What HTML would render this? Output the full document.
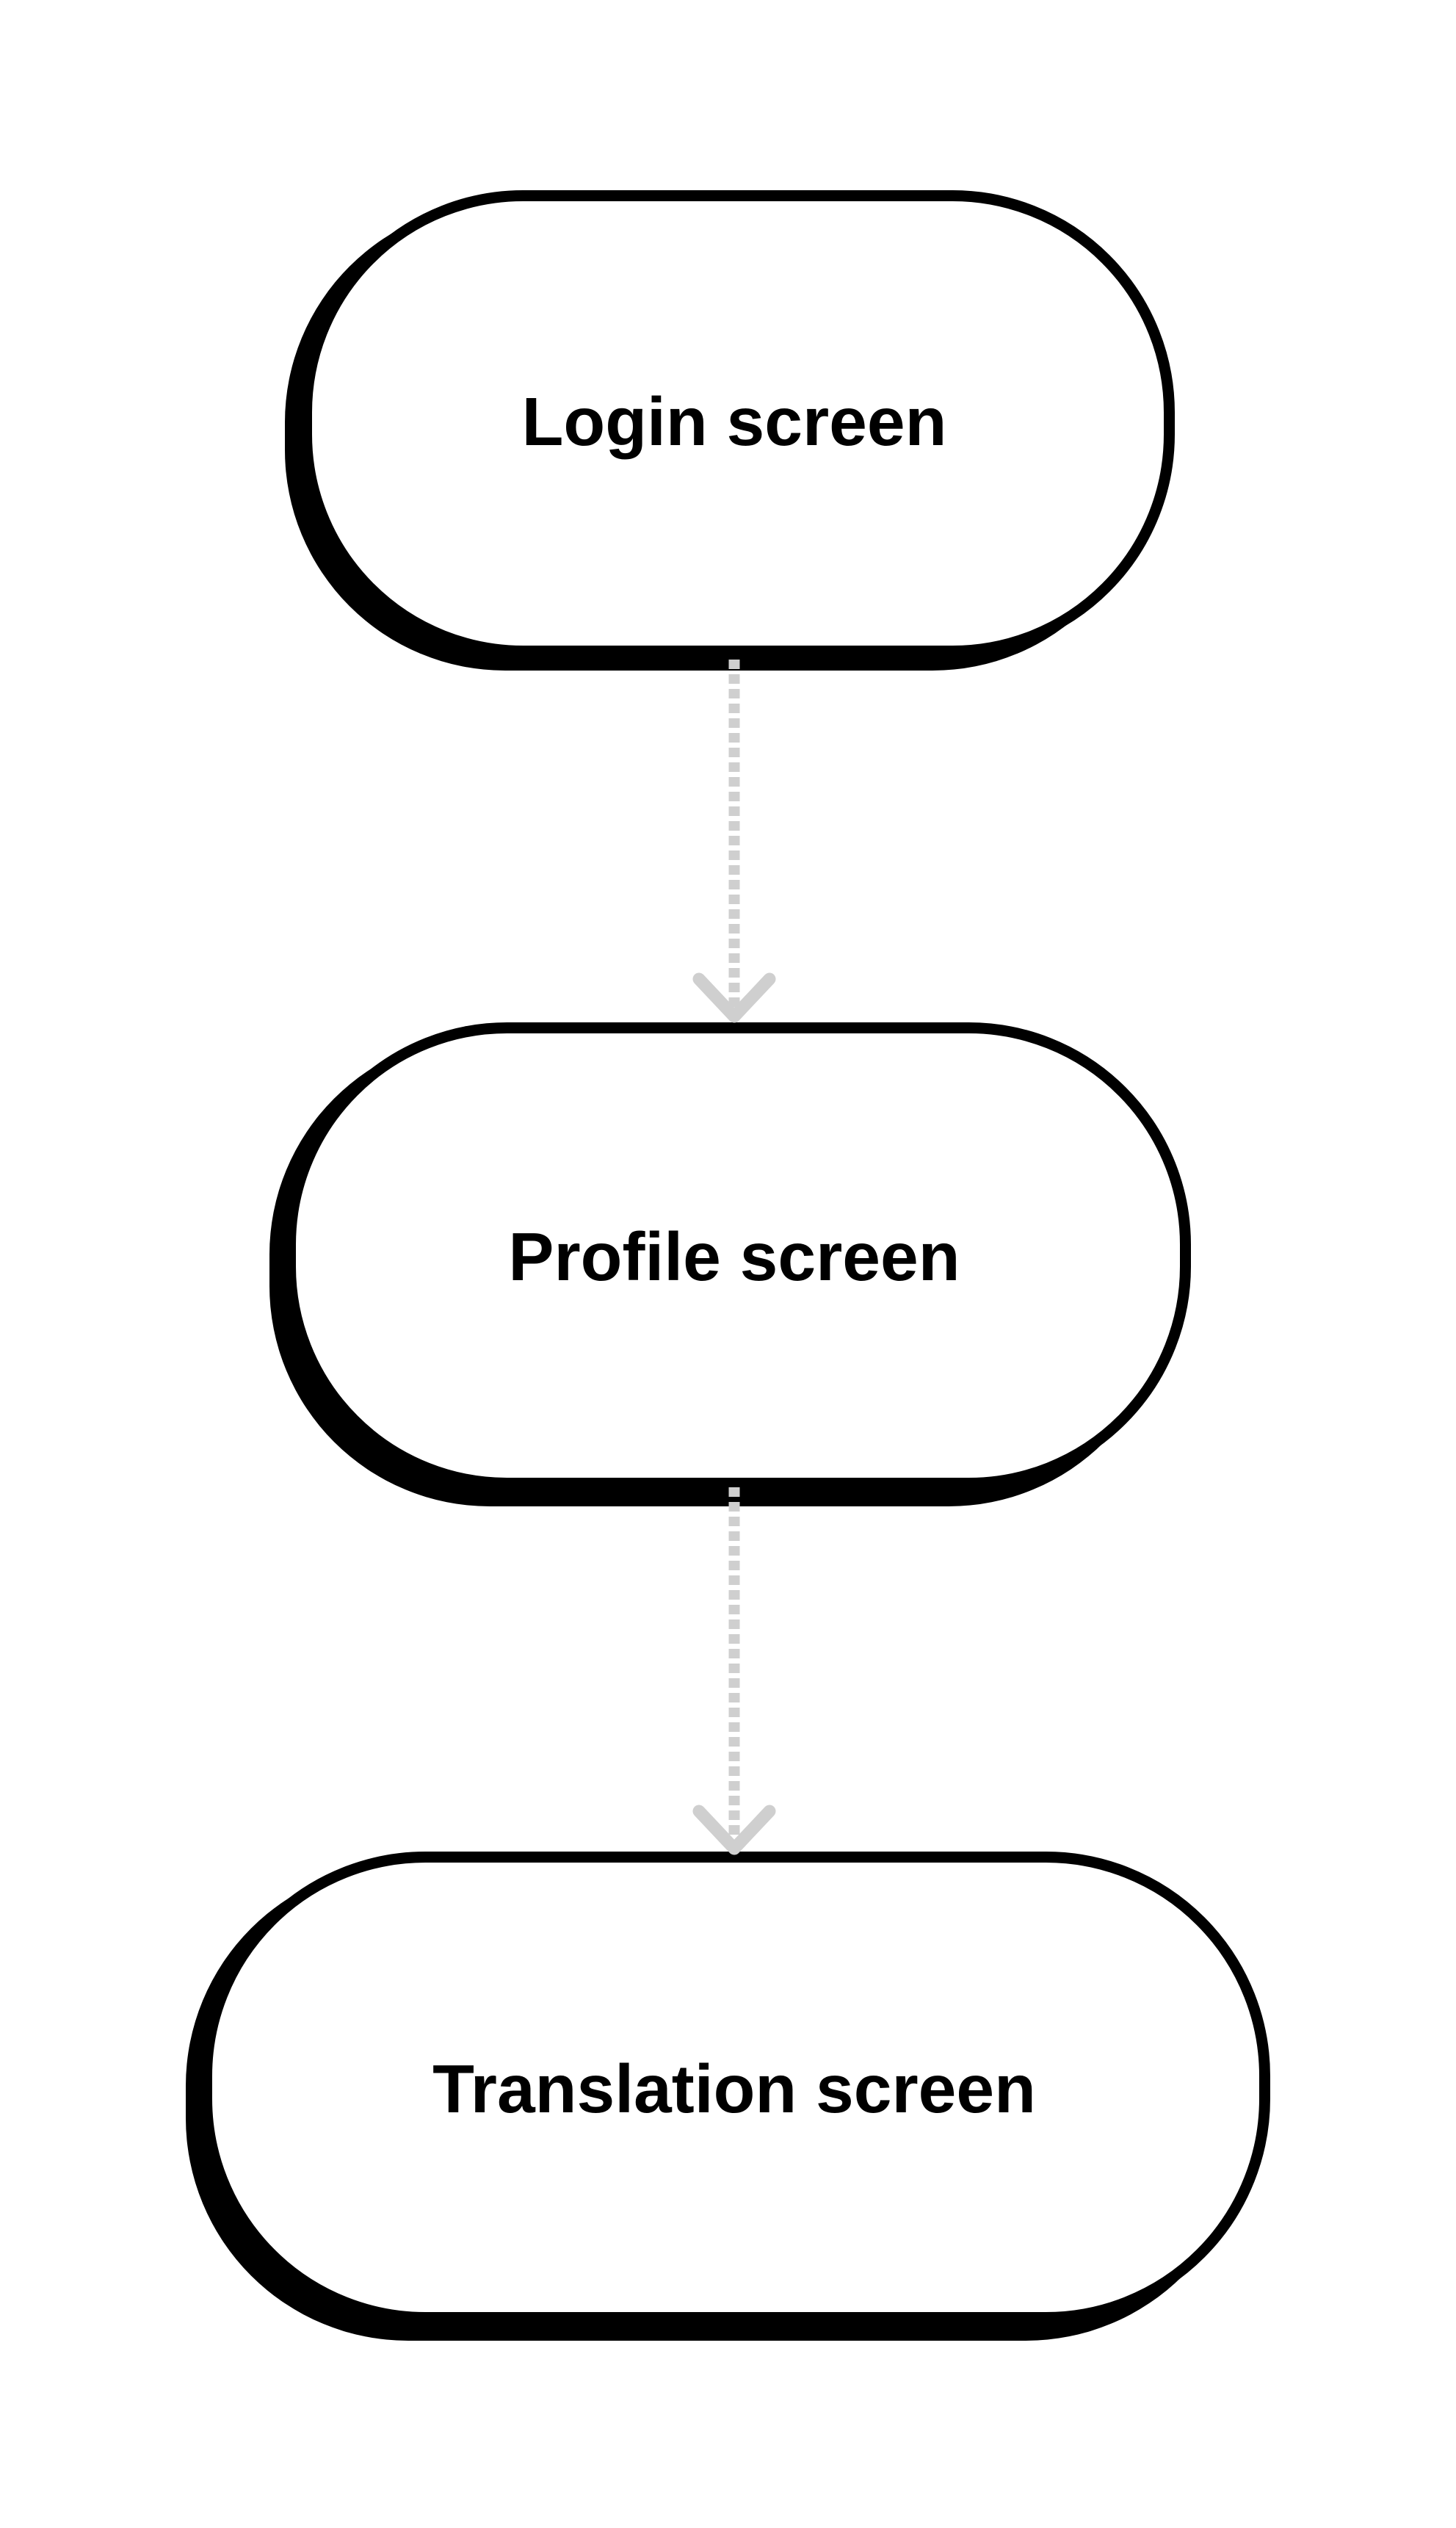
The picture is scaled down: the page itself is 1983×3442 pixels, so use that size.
<!DOCTYPE html>
<html><head><meta charset="utf-8"><style>
html,body{margin:0;padding:0;background:#fff}
svg{display:block}
text{font-family:"Liberation Sans",sans-serif;font-weight:bold;font-size:93px;fill:#000}
</style></head><body>
<svg width="1983" height="3442" viewBox="0 0 1983 3442" xmlns="http://www.w3.org/2000/svg">
<rect width="1983" height="3442" fill="#fff"/>
<!-- Login -->
<rect x="388" y="275" width="1182" height="638" rx="300" fill="#000"/>
<rect x="417.5" y="266.5" width="1175" height="620" rx="295" fill="#fff" stroke="#000" stroke-width="15"/>
<text x="1000" y="606" text-anchor="middle">Login screen</text>
<!-- Profile -->
<rect x="367" y="1408" width="1225" height="643" rx="300" fill="#000"/>
<rect x="395.5" y="1399.5" width="1219" height="620" rx="295" fill="#fff" stroke="#000" stroke-width="15"/>
<text x="1000" y="1743" text-anchor="middle">Profile screen</text>
<!-- Translation -->
<rect x="253" y="2537" width="1447" height="650" rx="303" fill="#000"/>
<rect x="281.5" y="2528.5" width="1441" height="627" rx="298" fill="#fff" stroke="#000" stroke-width="15"/>
<text x="1000" y="2876" text-anchor="middle">Translation screen</text>
<!-- arrows -->
<g stroke="#cfcfcf" fill="none">
<line x1="1000" y1="898" x2="1000" y2="1380" stroke-width="15" stroke-dasharray="13 7"/>
<polyline points="952,1333 1000,1384 1048,1333" stroke-width="17" stroke-linecap="round" stroke-linejoin="round"/>
<line x1="1000" y1="2025" x2="1000" y2="2512" stroke-width="15" stroke-dasharray="13 7"/>
<polyline points="952,2466 1000,2517 1048,2466" stroke-width="17" stroke-linecap="round" stroke-linejoin="round"/>
</g>
</svg>
</body></html>
